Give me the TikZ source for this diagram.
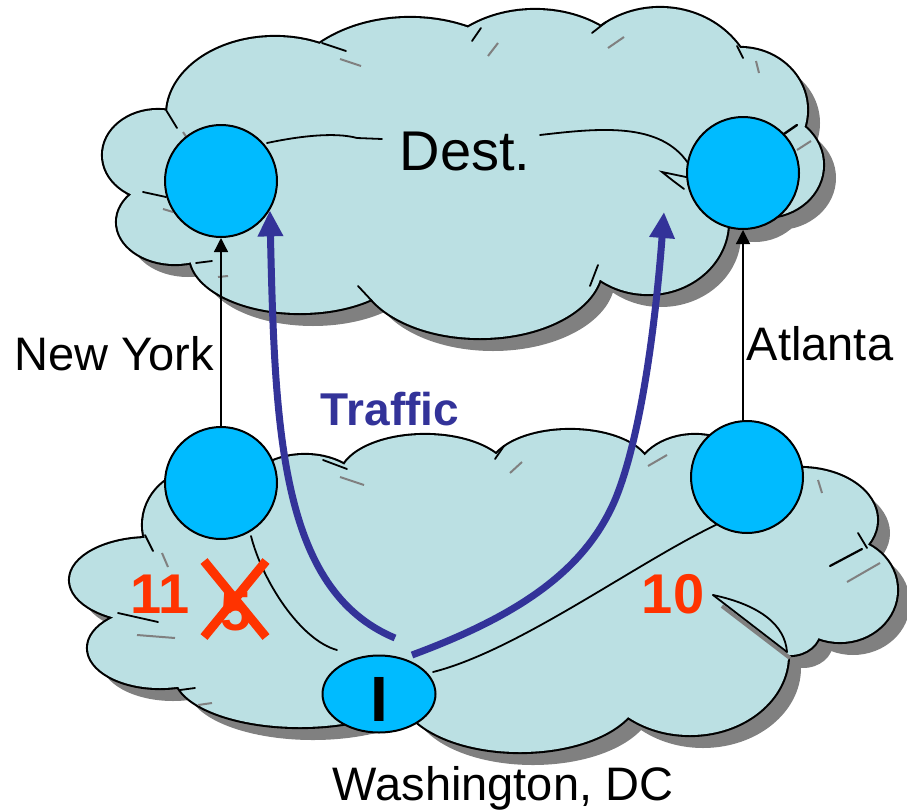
\documentclass[tikz,border=0pt]{standalone}
\usepackage{fontspec}
\setmainfont{Liberation Sans}
\usetikzlibrary{arrows.meta,shapes.geometric}

\definecolor{cloudfill}{RGB}{187,224,227}
\definecolor{nodefill}{RGB}{0,187,255}
\definecolor{shadowgray}{RGB}{128,128,128}
\definecolor{trafficblue}{RGB}{51,51,153}
\definecolor{costred}{RGB}{255,51,0}

% lobes of the upper (destination) cloud
\newcommand\upperlobes{
  (158,155) ellipse [x radius=55, y radius=45]
  (275,115) ellipse [x radius=108, y radius=78]
  (410,110) ellipse [x radius=130, y radius=92]
  (535,95) ellipse [x radius=110, y radius=85]
  (660,95) ellipse [x radius=95, y radius=87]
  (740,110) ellipse [x radius=67, y radius=62]
  (765,165) ellipse [x radius=58, y radius=52]
  (648,222) ellipse [x radius=80, y radius=72]
  (480,266) ellipse [x radius=122, y radius=72]
  (300,255) ellipse [x radius=110, y radius=58]
  (175,222) ellipse [x radius=58, y radius=42]
  (470,170) ellipse [x radius=280, y radius=110]
}
% lobes of the lower (source) cloud
\newcommand\lowerlobes{
  (200,525) ellipse [x radius=57, y radius=55]
  (150,580) ellipse [x radius=80, y radius=42]
  (160,648) ellipse [x radius=72, y radius=40]
  (300,675) ellipse [x radius=125, y radius=52]
  (520,690) ellipse [x radius=120, y radius=62]
  (690,655) ellipse [x radius=98, y radius=80]
  (790,630) ellipse [x radius=30, y radius=25]
  (840,590) ellipse [x radius=57, y radius=52]
  (800,520) ellipse [x radius=77, y radius=52]
  (695,480) ellipse [x radius=60, y radius=45]
  (570,470) ellipse [x radius=80, y radius=40]
  (425,478) ellipse [x radius=85, y radius=43]
  (305,495) ellipse [x radius=60, y radius=40]
  (480,590) ellipse [x radius=330, y radius=120]
}

\begin{document}
\begin{tikzpicture}[x=1pt,y=-1pt,
  cloudline/.style={line width=4.2pt},
  crease/.style={line width=1.8pt, line cap=round},
  greymark/.style={draw=shadowgray, line width=2pt},
  site/.style={circle, draw=black, line width=2pt, fill=nodefill,
    minimum size=112pt, inner sep=0pt},
  thinarrow/.style={line width=1.3pt, -{Triangle[length=14pt,width=14pt]}},
  traffic/.style={trafficblue, line width=7pt,
    -{Triangle[length=26pt,width=24pt]}},
  lbl/.style={font=\fontsize{47}{47}\selectfont, anchor=base, inner sep=0pt},
  cost/.style={font=\bfseries\fontsize{56}{56}\selectfont, text=costred,
    anchor=base, inner sep=0pt},
]
\useasboundingbox (0,0) rectangle (907,811);

% ---- upper cloud: shadow, outline, body
\fill[shadowgray, shift={(13,13)}] \upperlobes (742,173) circle [radius=56];
\draw[cloudline] \upperlobes;
\fill[cloudfill] \upperlobes;

% ---- lower cloud: shadow, outline, body
\fill[shadowgray, shift={(13,13)}] \lowerlobes;
\draw[cloudline] \lowerlobes;
\fill[cloudfill] \lowerlobes;

% creases of the upper cloud
\draw[crease] (166,110) -- (177,128);
\draw[crease] (322,43) -- (346,51);
\draw[crease] (481,28) -- (472,41);
\draw[crease] (606,22) -- (592,33);
\draw[crease] (737,46) -- (743,58);
\draw[crease, line width=2.4pt] (797,125) -- (781,136);
\draw[crease] (143,192) -- (166,197);
\draw[crease] (196,263) -- (212,261);
\draw[crease] (372,301) -- (358,286);
\draw[crease] (590,286) -- (598,265);
\draw[crease] (267,143) .. controls (300,136) and (335,132) .. (357,138) -- (382,139);
\draw[crease] (540,135) .. controls (600,128) and (660,122) .. (688,163);
\draw[crease] (686,177) -- (662,172) .. controls (672,180) .. (684,189);
% grey marks of the upper cloud
\draw[greymark] (340,59) -- (361,66);
\draw[greymark] (488,56) -- (498,43);
\draw[greymark] (608,48) -- (624,37);
\draw[greymark] (756,61) -- (759,73);
\draw[greymark] (797,150) -- (811,141);
\draw[greymark] (183,132) -- (187,138);
\draw[greymark] (163,209) -- (173,212);
\draw[greymark] (218,277) -- (228,276);

% creases of the lower cloud
\draw[crease] (323,460) -- (347,469);
\draw[crease] (145,535) -- (153,551);
\draw[crease] (118,613) -- (158,622);
\draw[crease] (180,690) -- (195,688);
\draw[crease] (495,459) -- (504,446);
\draw[crease] (858,533) -- (867,548);
\draw[crease, line width=2.2pt] (862,549) -- (830,566);
\draw[shadowgray, line width=4pt] (722,606) -- (790,658);
\fill[cloudfill] (713,595) .. controls (760,605) and (785,625) .. (787,652) -- cycle;
\draw[crease] (713,595) .. controls (760,605) and (785,625) .. (787,652);
\draw[crease] (713,595) -- (787,652);
\draw[crease] (251,536) .. controls (262,580) and (300,640) .. (337,650);
\draw[crease] (433,672) .. controls (520,650) and (640,560) .. (722,522);
% grey marks of the lower cloud
\draw[greymark] (162,553) -- (168,567);
\draw[greymark] (340,477) -- (364,485);
\draw[greymark] (137,635) -- (175,638);
\draw[greymark] (198,705) -- (212,703);
\draw[greymark] (510,473) -- (522,462);
\draw[greymark] (648,466) -- (667,455);
\draw[greymark] (818,480) -- (822,493);
\draw[greymark] (847,582) -- (880,563);

% routers
\node[site] (nyt) at (221,181) {};
\node[site] (att) at (743,173) {};
\node[site] (nyb) at (221,483) {};
\node[site] (atb) at (747,477) {};
\node[ellipse, draw=black, line width=2pt, fill=nodefill,
  minimum width=113pt, minimum height=77pt, inner sep=0pt] (wdc) at (379,694) {};
\node[font=\bfseries\fontsize{64}{64}\selectfont, anchor=base, inner sep=0pt]
  (ingress) at (379,721) {I};

% inter-domain links
\draw[thinarrow] (nyb) -- (nyt);
\draw[thinarrow] (atb.north -| att.south) -- (att.south);

% traffic
\coordinate (lstart) at (395,638);
\coordinate (rstart) at (412,655);
\coordinate (rtip) at (664,212);
\draw[traffic] (lstart) .. controls (280,590) and (275,430) .. (nyt.-31);
\draw[traffic] (rstart) .. controls (520,615) and (585,570) .. (615,500)
  .. controls (640,440) and (655,330) .. (rtip);

% labels
\node[lbl, font=\fontsize{56}{56}\selectfont] (dest) at (465,170) {Dest.};
\node[lbl] (nylbl) at (114,370) {New York};
\node[lbl] (atlbl) at (820,360) {Atlanta};
\node[lbl] (dclbl) at (503,800) {Washington, DC};
\node[lbl, font=\bfseries\fontsize{46}{46}\selectfont, text=trafficblue]
  (trafficlbl) at (390,425) {Traffic};
\node[cost] (c11) at (160,613) {11};
\node[cost] (c10) at (673,613) {10};
\node[cost] (c5) at (236,630) {5};
\draw[costred, line width=9pt] (204,561) -- (266,637);
\draw[costred, line width=9pt] (266,561) -- (204,637);
\end{tikzpicture}
\end{document}
